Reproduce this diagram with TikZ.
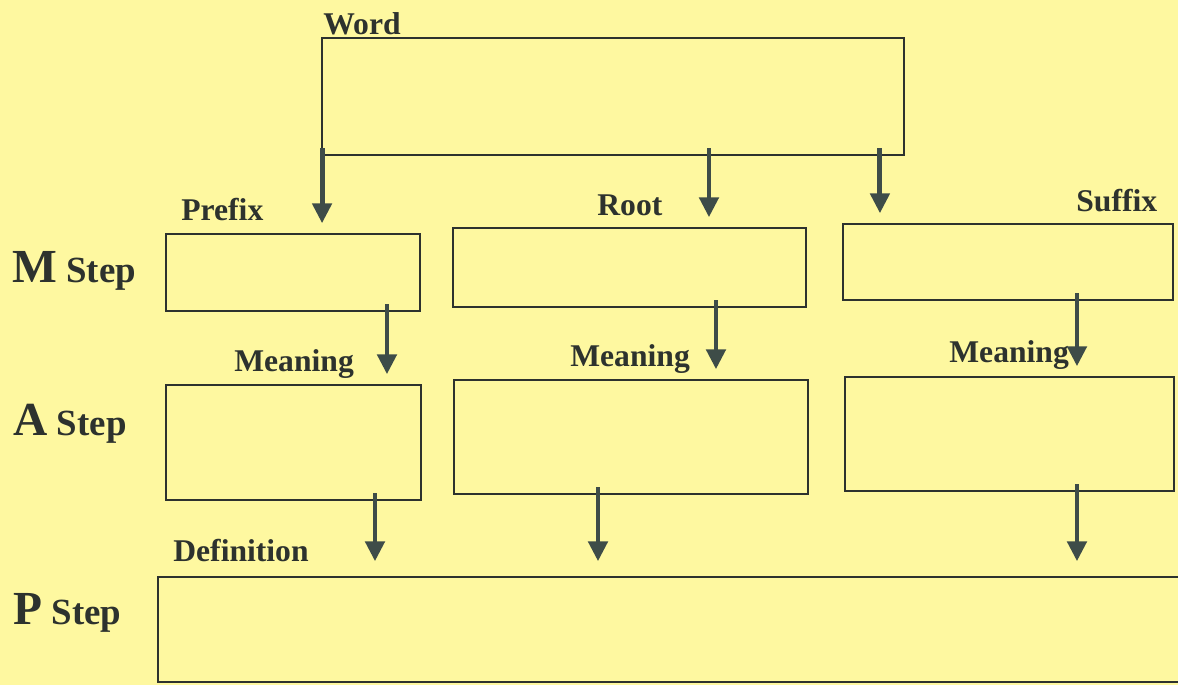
\documentclass[tikz,border=0pt]{standalone}
\usepackage{fontspec}
\setmainfont{Liberation Serif}
\usetikzlibrary{arrows.meta,calc}

\definecolor{paper}{RGB}{254,248,160}
\definecolor{ink}{RGB}{45,50,46}
\definecolor{arrowgrey}{RGB}{62,76,72}

\tikzset{
  box/.style={draw=ink, line width=0.8pt, inner sep=0pt},
  lbl/.style={text=ink, font=\fontsize{18}{20}\selectfont\bfseries, inner sep=0pt, anchor=base west},
  steplbl/.style={text=ink, font=\fontsize{21}{24}\selectfont\bfseries, inner sep=0pt, anchor=base west},
  arr/.style={draw=arrowgrey, line width=2.8pt,
    -{Triangle[length=0.4cm, width=0.38cm, fill=arrowgrey]},
    shorten <=-0.15cm, shorten >=0.2cm}
}

\begin{document}
\begin{tikzpicture}[x=0.02cm, y=-0.02cm]
        \clip (0,0) rectangle (1178,685);
        \fill[paper] (0,0) rectangle (1178,685);

        % word box
        \node[box, minimum width=11.64cm, minimum height=2.34cm] (word) at (613,96.5) {};
        \node[lbl] (wordlbl) at (323,35) {Word};

        % M step
        \node[box, minimum width=5.08cm, minimum height=1.54cm] (m1) at (293,272.5) {};
        \node[box, minimum width=7.06cm, minimum height=1.58cm] (m2) at (629.5,267.5) {};
        \node[box, minimum width=6.6cm, minimum height=1.52cm] (m3) at (1008,262) {};
        \node[lbl] (prefix) at (181,221) {Prefix};
        \node[lbl] (root) at (597,216) {Root};
        \node[lbl] (suffix) at (1076,212) {Suffix};

        % A step
        \node[box, minimum width=5.1cm, minimum height=2.3cm] (a1) at (293.5,442.5) {};
        \node[box, minimum width=7.08cm, minimum height=2.28cm] (a2) at (631,437) {};
        \node[box, minimum width=6.58cm, minimum height=2.28cm] (a3) at (1009.5,434) {};
        \node[lbl] (mean1) at (234,372) {Meaning};
        \node[lbl] (mean2) at (570,367) {Meaning};
        \node[lbl] (mean3) at (949,363) {Meaning};

        % P step
        \node[box, minimum width=20.64cm, minimum height=2.1cm] (p) at (674,629.5) {};
        \node[lbl] (defn) at (173,562) {Definition};

        % step names
        \node[steplbl] (mstep) at (12,283) {{\fontsize{27}{30}\selectfont M} Step};
        \node[steplbl] (astep) at (13,436) {{\fontsize{27}{30}\selectfont A} Step};
        \node[steplbl] (pstep) at (13,625) {{\fontsize{27}{30}\selectfont P} Step};

        % arrows
        \draw[arr] ([xshift=-5.82cm]word.south) -- ([xshift=-5.82cm]word.south |- m1.north);
        \draw[arr] ([xshift=1.92cm]word.south) -- ([xshift=1.92cm]word.south |- m2.north);
        \draw[arr] ([xshift=5.34cm]word.south) -- ([xshift=5.34cm]word.south |- m3.north);

        \draw[arr] ([xshift=1.88cm]m1.south) -- ([xshift=1.88cm]m1.south |- a1.north);
        \draw[arr] ([xshift=1.73cm]m2.south) -- ([xshift=1.73cm]m2.south |- a2.north);
        \draw[arr] ([xshift=1.38cm]m3.south) -- ([xshift=1.38cm]m3.south |- a3.north);

        \draw[arr, shorten >=0.3cm] ([xshift=1.63cm]a1.south) -- ([xshift=1.63cm]a1.south |- p.north);
        \draw[arr, shorten >=0.3cm] ([xshift=-0.66cm]a2.south) -- ([xshift=-0.66cm]a2.south |- p.north);
        \draw[arr, shorten >=0.3cm] ([xshift=1.35cm]a3.south) -- ([xshift=1.35cm]a3.south |- p.north);
    \end{tikzpicture}
\end{document}
